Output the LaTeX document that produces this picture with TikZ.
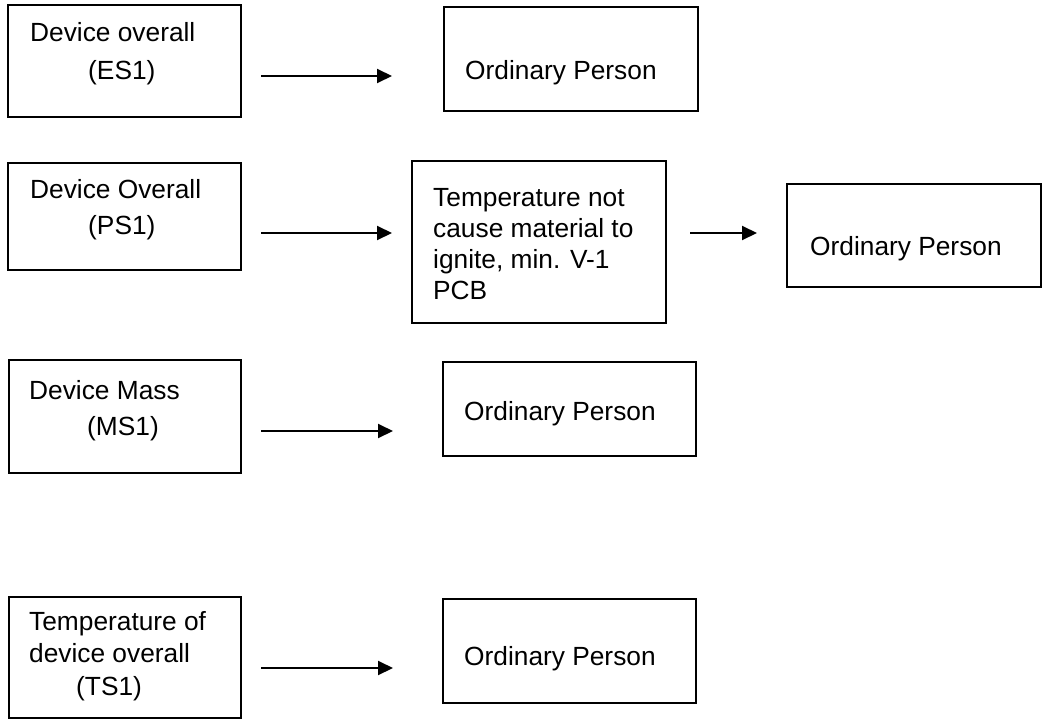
\documentclass[tikz,border=0pt]{standalone}
\usepackage{fontspec}
\setmainfont{Liberation Sans}
\usetikzlibrary{arrows.meta}
\begin{document}
\begin{tikzpicture}[x=1pt,y=-1pt,
  box/.style={draw=black, line width=2pt, inner sep=0pt, fill=none},
  txt/.style={anchor=base west, inner sep=0pt, font=\fontsize{26.3}{31}\selectfont},
  arr/.style={line width=2pt, -{Triangle[length=15pt,width=14pt]}}]
\useasboundingbox (0,0) rectangle (1043,720);
\fill[white] (0,0) rectangle (1043,720);

% boxes
\node[box, minimum width=233pt, minimum height=112pt] (b1) at (124.5,61) {};
\node[box, minimum width=254pt, minimum height=104pt] (o1) at (571,59) {};
\node[box, minimum width=233pt, minimum height=107pt] (b2) at (124.5,216.5) {};
\node[box, minimum width=254pt, minimum height=162pt] (t2) at (539,242) {};
\node[box, minimum width=254pt, minimum height=103pt] (o2) at (914,235.5) {};
\node[box, minimum width=232pt, minimum height=113pt] (b3) at (125,416.5) {};
\node[box, minimum width=253pt, minimum height=94pt] (o3) at (569.5,409) {};
\node[box, minimum width=232pt, minimum height=121pt] (b4) at (125,657.5) {};
\node[box, minimum width=253pt, minimum height=104pt] (o4) at (569.5,651) {};

% texts
\node[txt] (b1l1) at (30,41) {Device overall};
\node[txt] (b1l2) at (88,79) {(ES1)};
\node[txt] (o1t) at (465,79) {Ordinary Person};
\node[txt] (b2l1) at (30,198) {Device Overall};
\node[txt] (b2l2) at (88,234) {(PS1)};
\node[txt] (t2l1) at (433,206.5) {Temperature not};
\node[txt] (t2l2) at (433,237) {cause material to};
\node[txt] (t2l3) at (433,268) {ignite, min. V-1};
\node[txt] (t2l4) at (433,299) {PCB};
\node[txt] (o2t) at (810,255) {Ordinary Person};
\node[txt] (b3l1) at (29,399) {Device Mass};
\node[txt] (b3l2) at (87,435) {(MS1)};
\node[txt] (o3t) at (464,420) {Ordinary Person};
\node[txt] (b4l1) at (29,630) {Temperature of};
\node[txt] (b4l2) at (29,662) {device overall};
\node[txt] (b4l3) at (76,695) {(TS1)};
\node[txt] (o4t) at (464,665) {Ordinary Person};

% arrows
\coordinate (a1s) at (261,76);  \coordinate (a1e) at (392,76);
\coordinate (a2s) at (261,233); \coordinate (a2e) at (392,233);
\coordinate (a3s) at (690,233); \coordinate (a3e) at (757,233);
\coordinate (a4s) at (261,431); \coordinate (a4e) at (393,431);
\coordinate (a5s) at (261,668); \coordinate (a5e) at (393,668);
\draw[arr] (a1s) -- (a1e);
\draw[arr] (a2s) -- (a2e);
\draw[arr] (a3s) -- (a3e);
\draw[arr] (a4s) -- (a4e);
\draw[arr] (a5s) -- (a5e);
\end{tikzpicture}
\end{document}
